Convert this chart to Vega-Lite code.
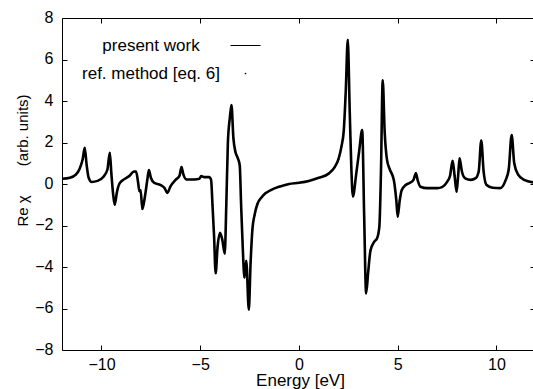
{
  "$schema": "https://vega.github.io/schema/vega-lite/v6.json",
  "width": 471,
  "height": 332,
  "autosize": "none",
  "padding": {"left": 62, "top": 18, "right": 0, "bottom": 39},
  "background": "white",
  "config": {
    "view": {"stroke": null},
    "font": "Liberation Sans",
    "axis": {"grid": false, "domainColor": "black", "tickColor": "black", "labelColor": "black", "titleColor": "black", "labelFont": "Liberation Sans", "titleFont": "Liberation Sans", "labelFontSize": 16, "titleFontSize": 15, "titleFontWeight": "normal", "domainWidth": 1, "tickWidth": 1}
  },
  "data": {"values": [
    {"x": -12.0, "y": 0.25}, {"x": -11.6, "y": 0.3}, {"x": -11.3, "y": 0.45}, {"x": -11.1, "y": 0.75}, {"x": -10.95, "y": 1.2}, {"x": -10.85, "y": 1.75}, {"x": -10.75, "y": 0.9}, {"x": -10.65, "y": 0.3}, {"x": -10.5, "y": 0.1}, {"x": -10.2, "y": 0.15}, {"x": -9.9, "y": 0.35}, {"x": -9.7, "y": 0.7}, {"x": -9.58, "y": 1.5}, {"x": -9.5, "y": 0.5}, {"x": -9.42, "y": -0.4}, {"x": -9.33, "y": -1.0}, {"x": -9.22, "y": -0.4}, {"x": -9.1, "y": 0.0}, {"x": -8.9, "y": 0.2}, {"x": -8.6, "y": 0.38}, {"x": -8.35, "y": 0.6}, {"x": -8.25, "y": 0.6}, {"x": -8.15, "y": 0.1}, {"x": -8.08, "y": -0.35}, {"x": -8.02, "y": -0.3}, {"x": -7.93, "y": -1.2}, {"x": -7.8, "y": -0.6}, {"x": -7.68, "y": 0.2}, {"x": -7.6, "y": 0.67}, {"x": -7.5, "y": 0.3}, {"x": -7.35, "y": 0.07}, {"x": -7.0, "y": -0.05}, {"x": -6.8, "y": -0.2}, {"x": -6.67, "y": -0.43}, {"x": -6.5, "y": -0.1}, {"x": -6.25, "y": 0.2}, {"x": -6.05, "y": 0.4}, {"x": -5.95, "y": 0.82}, {"x": -5.85, "y": 0.45}, {"x": -5.7, "y": 0.22}, {"x": -5.3, "y": 0.22}, {"x": -5.05, "y": 0.25}, {"x": -4.95, "y": 0.38}, {"x": -4.8, "y": 0.33}, {"x": -4.55, "y": 0.33}, {"x": -4.45, "y": 0.2}, {"x": -4.38, "y": -1.0}, {"x": -4.3, "y": -2.5}, {"x": -4.22, "y": -4.3}, {"x": -4.12, "y": -3.0}, {"x": -4.0, "y": -2.35}, {"x": -3.88, "y": -2.7}, {"x": -3.76, "y": -3.35}, {"x": -3.68, "y": -1.0}, {"x": -3.6, "y": 2.0}, {"x": -3.5, "y": 3.2}, {"x": -3.42, "y": 3.8}, {"x": -3.32, "y": 2.2}, {"x": -3.22, "y": 1.55}, {"x": -3.1, "y": 1.25}, {"x": -3.0, "y": 0.9}, {"x": -2.93, "y": -1.0}, {"x": -2.85, "y": -3.0}, {"x": -2.76, "y": -4.5}, {"x": -2.67, "y": -3.7}, {"x": -2.54, "y": -6.05}, {"x": -2.45, "y": -3.8}, {"x": -2.36, "y": -2.2}, {"x": -2.25, "y": -1.5}, {"x": -2.1, "y": -0.95}, {"x": -1.9, "y": -0.65}, {"x": -1.7, "y": -0.45}, {"x": -1.4, "y": -0.28}, {"x": -1.0, "y": -0.13}, {"x": -0.5, "y": 0.0}, {"x": 0.0, "y": 0.06},
    {"x": 0.5, "y": 0.15}, {"x": 1.0, "y": 0.3}, {"x": 1.5, "y": 0.5}, {"x": 1.8, "y": 0.8}, {"x": 2.0, "y": 1.2}, {"x": 2.15, "y": 1.8}, {"x": 2.27, "y": 2.6}, {"x": 2.37, "y": 4.5}, {"x": 2.47, "y": 6.95}, {"x": 2.57, "y": 3.5}, {"x": 2.65, "y": 0.8}, {"x": 2.73, "y": -0.6}, {"x": 2.9, "y": 0.5}, {"x": 3.05, "y": 1.6}, {"x": 3.2, "y": 2.6}, {"x": 3.3, "y": -1.5}, {"x": 3.4, "y": -5.27}, {"x": 3.5, "y": -4.3}, {"x": 3.62, "y": -3.2}, {"x": 3.8, "y": -2.8}, {"x": 3.96, "y": -2.6}, {"x": 4.07, "y": -2.05}, {"x": 4.15, "y": 0.5}, {"x": 4.24, "y": 5.0}, {"x": 4.34, "y": 2.5}, {"x": 4.46, "y": 1.15}, {"x": 4.6, "y": 0.7}, {"x": 4.8, "y": 0.2}, {"x": 4.93, "y": -0.8}, {"x": 5.0, "y": -1.57}, {"x": 5.1, "y": -0.8}, {"x": 5.2, "y": -0.3}, {"x": 5.4, "y": -0.05}, {"x": 5.6, "y": 0.05}, {"x": 5.8, "y": 0.2}, {"x": 5.92, "y": 0.52}, {"x": 6.02, "y": 0.15}, {"x": 6.15, "y": -0.13}, {"x": 6.5, "y": -0.2}, {"x": 7.0, "y": -0.2}, {"x": 7.25, "y": -0.15}, {"x": 7.5, "y": 0.1}, {"x": 7.65, "y": 0.4}, {"x": 7.78, "y": 1.12}, {"x": 7.88, "y": 0.4}, {"x": 7.98, "y": -0.37}, {"x": 8.06, "y": 0.4}, {"x": 8.13, "y": 1.24}, {"x": 8.25, "y": 0.6}, {"x": 8.42, "y": 0.27}, {"x": 8.7, "y": 0.2}, {"x": 8.95, "y": 0.28}, {"x": 9.1, "y": 0.6}, {"x": 9.23, "y": 2.1}, {"x": 9.35, "y": 0.6}, {"x": 9.5, "y": -0.05}, {"x": 9.8, "y": -0.18}, {"x": 10.2, "y": -0.2}, {"x": 10.45, "y": 0.15}, {"x": 10.62, "y": 0.7}, {"x": 10.77, "y": 2.36}, {"x": 10.9, "y": 1.0}, {"x": 11.1, "y": 0.45}, {"x": 11.4, "y": 0.2}, {"x": 11.85, "y": 0.08}
  ]},
  "layer": [
    {
      "mark": {"type": "line", "strokeWidth": 2.6, "interpolate": "monotone", "clip": true},
      "encoding": {
        "x": {"field": "x", "type": "quantitative", "scale": {"domain": [-12, 11.85], "nice": false, "zero": false},
          "axis": {"orient": "bottom", "values": [-10, -5, 0, 5, 10], "tickSize": -5, "labelPadding": 11, "labelFlush": false, "title": "Energy [eV]", "titleFontSize": 17, "titleY": 35, "titleBaseline": "alphabetic", "titleX": 238}},
        "y": {"field": "y", "type": "quantitative", "scale": {"domain": [-8, 8], "nice": false, "zero": false},
          "axis": {"orient": "left", "values": [-8, -6, -4, -2, 0, 2, 4, 6, 8], "tickSize": -5, "labelPadding": 14, "labelOffset": -1, "title": "Re χ\u00a0\u00a0\u00a0\u00a0\u00a0\u00a0\u00a0(arb. units)", "titleX": -35, "titleY": 142, "titleBaseline": "alphabetic", "titleAlign": "center", "titleAngle": -90}},
        "color": {"datum": "present work", "type": "nominal",
          "scale": {"domain": ["present work", "ref. method [eq. 6]"], "range": ["black", "black"]},
          "legend": {"orient": "none", "legendX": 175, "legendY": 19, "title": null, "padding": 0, "labelFont": "Liberation Sans", "labelFontSize": 17, "labelColor": "black", "labelAlign": "center", "labelOffset": -103, "labelLimit": 300, "rowPadding": 10,
            "encode": {"symbols": {"update": {
              "shape": {"signal": "datum.value === 'present work' ? 'stroke' : 'circle'"},
              "size": {"signal": "datum.value === 'present work' ? 900 : 3"},
              "strokeWidth": {"signal": "datum.value === 'present work' ? 1 : 0"},
              "stroke": {"value": "black"},
              "fill": {"value": "black"},
              "opacity": {"value": 1}
            }}}}}
      }
    },
    {
      "mark": {"type": "point", "filled": true, "size": 3, "color": "#333333", "opacity": 1, "clip": true},
      "encoding": {
        "x": {"field": "x", "type": "quantitative",
          "axis": {"orient": "top", "values": [-10, -5, 0, 5, 10], "tickSize": -5, "labels": false, "title": null, "domain": true}},
        "y": {"field": "y", "type": "quantitative",
          "axis": {"orient": "right", "values": [-8, -6, -4, -2, 0, 2, 4, 6, 8], "tickSize": -3, "labels": false, "title": null, "domain": false}},
        "color": {"datum": "ref. method [eq. 6]", "type": "nominal"}
      }
    }
  ],
  "resolve": {"axis": {"x": "independent", "y": "independent"}}
}
